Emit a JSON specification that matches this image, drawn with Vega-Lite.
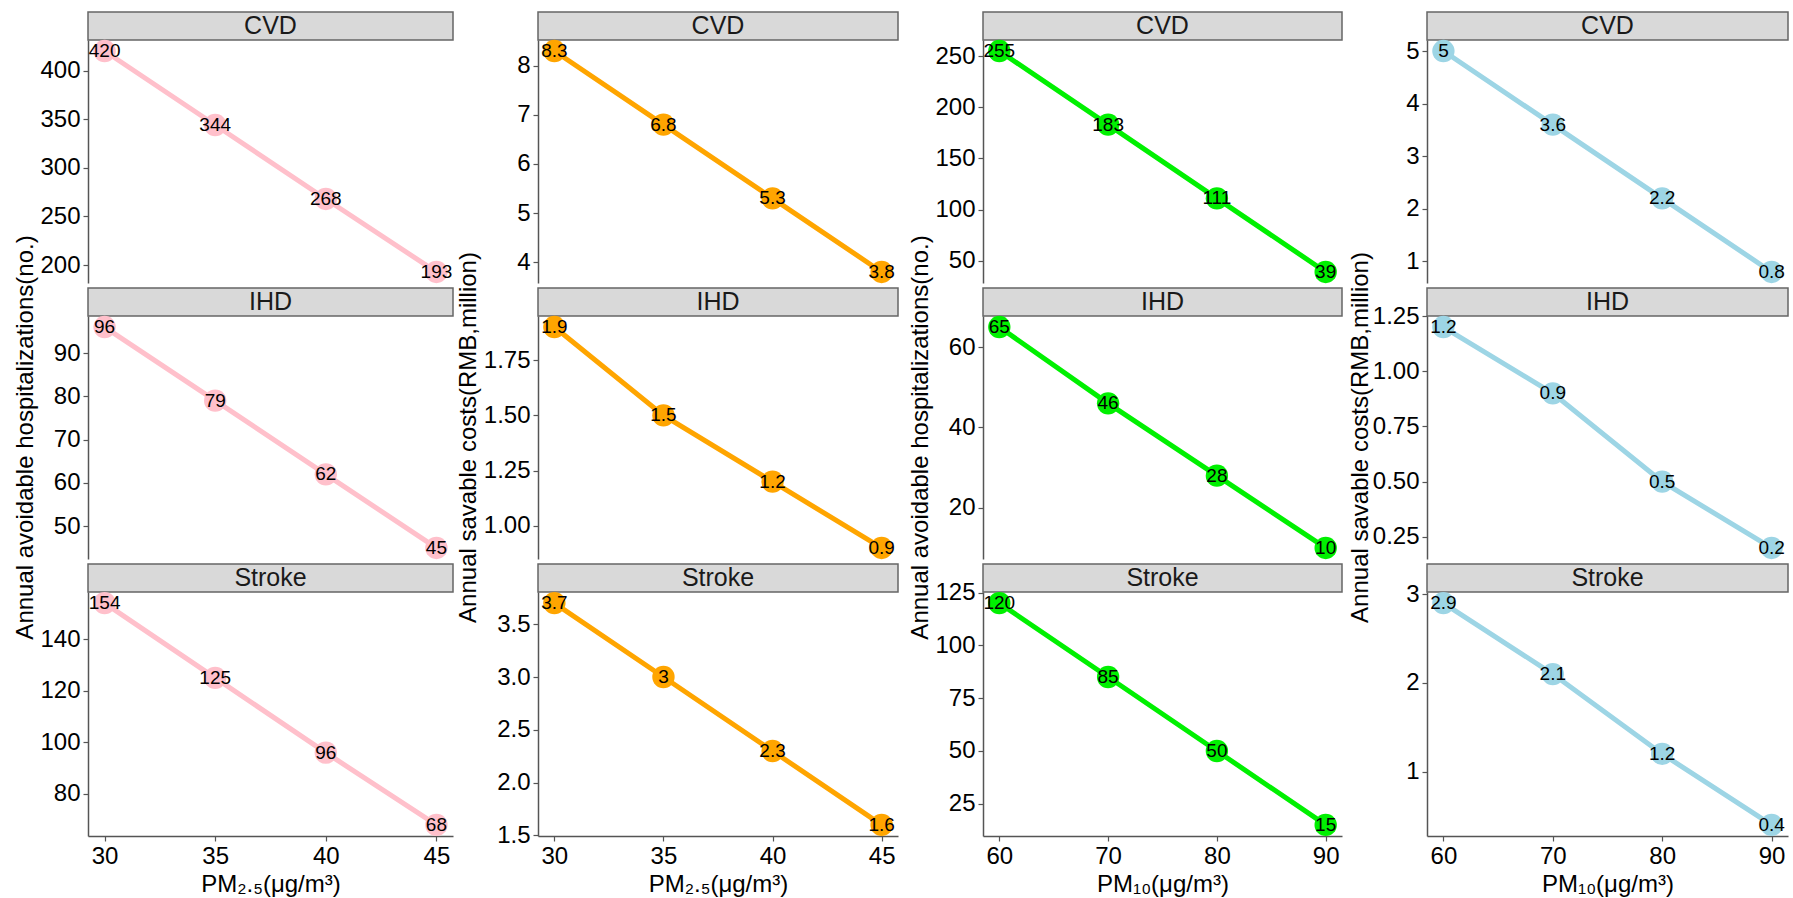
{
"$schema": "https://vega.github.io/schema/vega-lite/v6.json",
"padding": {"left": 12, "top": 11, "right": 5, "bottom": 5},
"background": "white",
"datasets": {
"d": [
{"col":1,"disease":"CVD","pm":30,"v":420},{"col":1,"disease":"CVD","pm":35,"v":344},{"col":1,"disease":"CVD","pm":40,"v":268},{"col":1,"disease":"CVD","pm":45,"v":193},
{"col":1,"disease":"IHD","pm":30,"v":96},{"col":1,"disease":"IHD","pm":35,"v":79},{"col":1,"disease":"IHD","pm":40,"v":62},{"col":1,"disease":"IHD","pm":45,"v":45},
{"col":1,"disease":"Stroke","pm":30,"v":154},{"col":1,"disease":"Stroke","pm":35,"v":125},{"col":1,"disease":"Stroke","pm":40,"v":96},{"col":1,"disease":"Stroke","pm":45,"v":68},
{"col":2,"disease":"CVD","pm":30,"v":8.3},{"col":2,"disease":"CVD","pm":35,"v":6.8},{"col":2,"disease":"CVD","pm":40,"v":5.3},{"col":2,"disease":"CVD","pm":45,"v":3.8},
{"col":2,"disease":"IHD","pm":30,"v":1.9},{"col":2,"disease":"IHD","pm":35,"v":1.5},{"col":2,"disease":"IHD","pm":40,"v":1.2},{"col":2,"disease":"IHD","pm":45,"v":0.9},
{"col":2,"disease":"Stroke","pm":30,"v":3.7},{"col":2,"disease":"Stroke","pm":35,"v":3},{"col":2,"disease":"Stroke","pm":40,"v":2.3},{"col":2,"disease":"Stroke","pm":45,"v":1.6},
{"col":3,"disease":"CVD","pm":60,"v":255},{"col":3,"disease":"CVD","pm":70,"v":183},{"col":3,"disease":"CVD","pm":80,"v":111},{"col":3,"disease":"CVD","pm":90,"v":39},
{"col":3,"disease":"IHD","pm":60,"v":65},{"col":3,"disease":"IHD","pm":70,"v":46},{"col":3,"disease":"IHD","pm":80,"v":28},{"col":3,"disease":"IHD","pm":90,"v":10},
{"col":3,"disease":"Stroke","pm":60,"v":120},{"col":3,"disease":"Stroke","pm":70,"v":85},{"col":3,"disease":"Stroke","pm":80,"v":50},{"col":3,"disease":"Stroke","pm":90,"v":15},
{"col":4,"disease":"CVD","pm":60,"v":5},{"col":4,"disease":"CVD","pm":70,"v":3.6},{"col":4,"disease":"CVD","pm":80,"v":2.2},{"col":4,"disease":"CVD","pm":90,"v":0.8},
{"col":4,"disease":"IHD","pm":60,"v":1.2},{"col":4,"disease":"IHD","pm":70,"v":0.9},{"col":4,"disease":"IHD","pm":80,"v":0.5},{"col":4,"disease":"IHD","pm":90,"v":0.2},
{"col":4,"disease":"Stroke","pm":60,"v":2.9},{"col":4,"disease":"Stroke","pm":70,"v":2.1},{"col":4,"disease":"Stroke","pm":80,"v":1.2},{"col":4,"disease":"Stroke","pm":90,"v":0.4}
]
},
"bounds": "flush",
"columns": 4,
"spacing": {"row": 0, "column": 85},
"concat": [
  {"width": 365, "height": 28, "data": {"values": [{"label": "CVD"}]}, "mark": {"type": "text", "fontSize": 25, "color": "#1a1a1a"}, "encoding": {"text": {"field": "label", "type": "nominal"}}, "view": {"fill": "#D9D9D9", "stroke": "#666666", "strokeWidth": 1.5}},
  {"width": 360, "height": 28, "data": {"values": [{"label": "CVD"}]}, "mark": {"type": "text", "fontSize": 25, "color": "#1a1a1a"}, "encoding": {"text": {"field": "label", "type": "nominal"}}, "view": {"fill": "#D9D9D9", "stroke": "#666666", "strokeWidth": 1.5}},
  {"width": 359, "height": 28, "data": {"values": [{"label": "CVD"}]}, "mark": {"type": "text", "fontSize": 25, "color": "#1a1a1a"}, "encoding": {"text": {"field": "label", "type": "nominal"}}, "view": {"fill": "#D9D9D9", "stroke": "#666666", "strokeWidth": 1.5}},
  {"width": 361, "height": 28, "data": {"values": [{"label": "CVD"}]}, "mark": {"type": "text", "fontSize": 25, "color": "#1a1a1a"}, "encoding": {"text": {"field": "label", "type": "nominal"}}, "view": {"fill": "#D9D9D9", "stroke": "#666666", "strokeWidth": 1.5}},

  {"width": 365, "height": 248, "data": {"name": "d"}, "transform": [{"filter": "datum.col==1 && datum.disease=='CVD'"}],
   "encoding": {"x": {"field": "pm", "type": "quantitative", "scale": {"domain": [29.25, 45.75], "nice": false, "zero": false}, "axis": null},
    "y": {"field": "v", "type": "quantitative", "scale": {"domain": [181.65, 431.35], "range": [243, 0], "nice": false, "zero": false}, "axis": {"values": [200, 250, 300, 350, 400], "title": null}}},
   "layer": [{"mark": {"type": "line", "color": "#FFC0CB", "strokeWidth": 5}}, {"mark": {"type": "circle", "color": "#FFC0CB", "size": 500, "opacity": 1}}, {"mark": {"type": "text", "fontSize": 19, "color": "#000000"}, "encoding": {"text": {"field": "v", "type": "nominal"}}}]},
  {"width": 360, "height": 248, "data": {"name": "d"}, "transform": [{"filter": "datum.col==2 && datum.disease=='CVD'"}],
   "encoding": {"x": {"field": "pm", "type": "quantitative", "scale": {"domain": [29.25, 45.75], "nice": false, "zero": false}, "axis": null},
    "y": {"field": "v", "type": "quantitative", "scale": {"domain": [3.575, 8.525], "range": [243, 0], "nice": false, "zero": false}, "axis": {"values": [4, 5, 6, 7, 8], "title": null}}},
   "layer": [{"mark": {"type": "line", "color": "#FFA500", "strokeWidth": 5}}, {"mark": {"type": "circle", "color": "#FFA500", "size": 500, "opacity": 1}}, {"mark": {"type": "text", "fontSize": 19, "color": "#000000"}, "encoding": {"text": {"field": "v", "type": "nominal"}}}]},
  {"width": 359, "height": 248, "data": {"name": "d"}, "transform": [{"filter": "datum.col==3 && datum.disease=='CVD'"}],
   "encoding": {"x": {"field": "pm", "type": "quantitative", "scale": {"domain": [58.5, 91.5], "nice": false, "zero": false}, "axis": null},
    "y": {"field": "v", "type": "quantitative", "scale": {"domain": [28.2, 265.8], "range": [243, 0], "nice": false, "zero": false}, "axis": {"values": [50, 100, 150, 200, 250], "title": null}}},
   "layer": [{"mark": {"type": "line", "color": "#00F000", "strokeWidth": 5}}, {"mark": {"type": "circle", "color": "#00F000", "size": 500, "opacity": 1}}, {"mark": {"type": "text", "fontSize": 19, "color": "#000000"}, "encoding": {"text": {"field": "v", "type": "nominal"}}}]},
  {"width": 361, "height": 248, "data": {"name": "d"}, "transform": [{"filter": "datum.col==4 && datum.disease=='CVD'"}],
   "encoding": {"x": {"field": "pm", "type": "quantitative", "scale": {"domain": [58.5, 91.5], "nice": false, "zero": false}, "axis": null},
    "y": {"field": "v", "type": "quantitative", "scale": {"domain": [0.59, 5.21], "range": [243, 0], "nice": false, "zero": false}, "axis": {"values": [1, 2, 3, 4, 5], "title": null}}},
   "layer": [{"mark": {"type": "line", "color": "#9DD5E5", "strokeWidth": 5}}, {"mark": {"type": "circle", "color": "#9DD5E5", "size": 500, "opacity": 1}}, {"mark": {"type": "text", "fontSize": 19, "color": "#000000"}, "encoding": {"text": {"field": "v", "type": "nominal"}}}]},

  {"width": 365, "height": 28, "data": {"values": [{"label": "IHD"}]}, "mark": {"type": "text", "fontSize": 25, "color": "#1a1a1a"}, "encoding": {"text": {"field": "label", "type": "nominal"}}, "view": {"fill": "#D9D9D9", "stroke": "#666666", "strokeWidth": 1.5}},
  {"width": 360, "height": 28, "data": {"values": [{"label": "IHD"}]}, "mark": {"type": "text", "fontSize": 25, "color": "#1a1a1a"}, "encoding": {"text": {"field": "label", "type": "nominal"}}, "view": {"fill": "#D9D9D9", "stroke": "#666666", "strokeWidth": 1.5}},
  {"width": 359, "height": 28, "data": {"values": [{"label": "IHD"}]}, "mark": {"type": "text", "fontSize": 25, "color": "#1a1a1a"}, "encoding": {"text": {"field": "label", "type": "nominal"}}, "view": {"fill": "#D9D9D9", "stroke": "#666666", "strokeWidth": 1.5}},
  {"width": 361, "height": 28, "data": {"values": [{"label": "IHD"}]}, "mark": {"type": "text", "fontSize": 25, "color": "#1a1a1a"}, "encoding": {"text": {"field": "label", "type": "nominal"}}, "view": {"fill": "#D9D9D9", "stroke": "#666666", "strokeWidth": 1.5}},

  {"width": 365, "height": 248, "data": {"name": "d"}, "transform": [{"filter": "datum.col==1 && datum.disease=='IHD'"}],
   "encoding": {"x": {"field": "pm", "type": "quantitative", "scale": {"domain": [29.25, 45.75], "nice": false, "zero": false}, "axis": null},
    "y": {"field": "v", "type": "quantitative", "scale": {"domain": [42.45, 98.55], "range": [243, 0], "nice": false, "zero": false}, "axis": {"values": [50, 60, 70, 80, 90], "title": "Annual avoidable hospitalizations(no.)", "titleX": -51, "titleY": 121}}},
   "layer": [{"mark": {"type": "line", "color": "#FFC0CB", "strokeWidth": 5}}, {"mark": {"type": "circle", "color": "#FFC0CB", "size": 500, "opacity": 1}}, {"mark": {"type": "text", "fontSize": 19, "color": "#000000"}, "encoding": {"text": {"field": "v", "type": "nominal"}}}]},
  {"width": 360, "height": 248, "data": {"name": "d"}, "transform": [{"filter": "datum.col==2 && datum.disease=='IHD'"}],
   "encoding": {"x": {"field": "pm", "type": "quantitative", "scale": {"domain": [29.25, 45.75], "nice": false, "zero": false}, "axis": null},
    "y": {"field": "v", "type": "quantitative", "scale": {"domain": [0.85, 1.95], "range": [243, 0], "nice": false, "zero": false}, "axis": {"values": [1, 1.25, 1.5, 1.75], "format": ".2f", "title": "Annual savable costs(RMB,million)", "titleX": -58, "titleY": 121}}},
   "layer": [{"mark": {"type": "line", "color": "#FFA500", "strokeWidth": 5}}, {"mark": {"type": "circle", "color": "#FFA500", "size": 500, "opacity": 1}}, {"mark": {"type": "text", "fontSize": 19, "color": "#000000"}, "encoding": {"text": {"field": "v", "type": "nominal"}}}]},
  {"width": 359, "height": 248, "data": {"name": "d"}, "transform": [{"filter": "datum.col==3 && datum.disease=='IHD'"}],
   "encoding": {"x": {"field": "pm", "type": "quantitative", "scale": {"domain": [58.5, 91.5], "nice": false, "zero": false}, "axis": null},
    "y": {"field": "v", "type": "quantitative", "scale": {"domain": [7.25, 67.75], "range": [243, 0], "nice": false, "zero": false}, "axis": {"values": [20, 40, 60], "title": "Annual avoidable hospitalizations(no.)", "titleX": -51, "titleY": 121}}},
   "layer": [{"mark": {"type": "line", "color": "#00F000", "strokeWidth": 5}}, {"mark": {"type": "circle", "color": "#00F000", "size": 500, "opacity": 1}}, {"mark": {"type": "text", "fontSize": 19, "color": "#000000"}, "encoding": {"text": {"field": "v", "type": "nominal"}}}]},
  {"width": 361, "height": 248, "data": {"name": "d"}, "transform": [{"filter": "datum.col==4 && datum.disease=='IHD'"}],
   "encoding": {"x": {"field": "pm", "type": "quantitative", "scale": {"domain": [58.5, 91.5], "nice": false, "zero": false}, "axis": null},
    "y": {"field": "v", "type": "quantitative", "scale": {"domain": [0.15, 1.25], "range": [243, 0], "nice": false, "zero": false}, "axis": {"values": [0.25, 0.5, 0.75, 1, 1.25], "format": ".2f", "title": "Annual savable costs(RMB,million)", "titleX": -55, "titleY": 121}}},
   "layer": [{"mark": {"type": "line", "color": "#9DD5E5", "strokeWidth": 5}}, {"mark": {"type": "circle", "color": "#9DD5E5", "size": 500, "opacity": 1}}, {"mark": {"type": "text", "fontSize": 19, "color": "#000000"}, "encoding": {"text": {"field": "v", "type": "nominal"}}}]},

  {"width": 365, "height": 28, "data": {"values": [{"label": "Stroke"}]}, "mark": {"type": "text", "fontSize": 25, "color": "#1a1a1a"}, "encoding": {"text": {"field": "label", "type": "nominal"}}, "view": {"fill": "#D9D9D9", "stroke": "#666666", "strokeWidth": 1.5}},
  {"width": 360, "height": 28, "data": {"values": [{"label": "Stroke"}]}, "mark": {"type": "text", "fontSize": 25, "color": "#1a1a1a"}, "encoding": {"text": {"field": "label", "type": "nominal"}}, "view": {"fill": "#D9D9D9", "stroke": "#666666", "strokeWidth": 1.5}},
  {"width": 359, "height": 28, "data": {"values": [{"label": "Stroke"}]}, "mark": {"type": "text", "fontSize": 25, "color": "#1a1a1a"}, "encoding": {"text": {"field": "label", "type": "nominal"}}, "view": {"fill": "#D9D9D9", "stroke": "#666666", "strokeWidth": 1.5}},
  {"width": 361, "height": 28, "data": {"values": [{"label": "Stroke"}]}, "mark": {"type": "text", "fontSize": 25, "color": "#1a1a1a"}, "encoding": {"text": {"field": "label", "type": "nominal"}}, "view": {"fill": "#D9D9D9", "stroke": "#666666", "strokeWidth": 1.5}},

  {"width": 365, "height": 244, "data": {"name": "d"}, "transform": [{"filter": "datum.col==1 && datum.disease=='Stroke'"}],
   "encoding": {"x": {"field": "pm", "type": "quantitative", "scale": {"domain": [29.25, 45.75], "nice": false, "zero": false}, "axis": {"values": [30, 35, 40, 45], "title": "PM₂.₅(μg/m³)"}},
    "y": {"field": "v", "type": "quantitative", "scale": {"domain": [63.7, 158.3], "nice": false, "zero": false}, "axis": {"values": [80, 100, 120, 140], "title": null}}},
   "layer": [{"mark": {"type": "line", "color": "#FFC0CB", "strokeWidth": 5}}, {"mark": {"type": "circle", "color": "#FFC0CB", "size": 500, "opacity": 1}}, {"mark": {"type": "text", "fontSize": 19, "color": "#000000"}, "encoding": {"text": {"field": "v", "type": "nominal"}}}]},
  {"width": 360, "height": 244, "data": {"name": "d"}, "transform": [{"filter": "datum.col==2 && datum.disease=='Stroke'"}],
   "encoding": {"x": {"field": "pm", "type": "quantitative", "scale": {"domain": [29.25, 45.75], "nice": false, "zero": false}, "axis": {"values": [30, 35, 40, 45], "title": "PM₂.₅(μg/m³)"}},
    "y": {"field": "v", "type": "quantitative", "scale": {"domain": [1.495, 3.805], "nice": false, "zero": false}, "axis": {"values": [1.5, 2, 2.5, 3, 3.5], "format": ".1f", "title": null}}},
   "layer": [{"mark": {"type": "line", "color": "#FFA500", "strokeWidth": 5}}, {"mark": {"type": "circle", "color": "#FFA500", "size": 500, "opacity": 1}}, {"mark": {"type": "text", "fontSize": 19, "color": "#000000"}, "encoding": {"text": {"field": "v", "type": "nominal"}}}]},
  {"width": 359, "height": 244, "data": {"name": "d"}, "transform": [{"filter": "datum.col==3 && datum.disease=='Stroke'"}],
   "encoding": {"x": {"field": "pm", "type": "quantitative", "scale": {"domain": [58.5, 91.5], "nice": false, "zero": false}, "axis": {"values": [60, 70, 80, 90], "title": "PM₁₀(μg/m³)"}},
    "y": {"field": "v", "type": "quantitative", "scale": {"domain": [9.75, 125.25], "nice": false, "zero": false}, "axis": {"values": [25, 50, 75, 100, 125], "title": null}}},
   "layer": [{"mark": {"type": "line", "color": "#00F000", "strokeWidth": 5}}, {"mark": {"type": "circle", "color": "#00F000", "size": 500, "opacity": 1}}, {"mark": {"type": "text", "fontSize": 19, "color": "#000000"}, "encoding": {"text": {"field": "v", "type": "nominal"}}}]},
  {"width": 361, "height": 244, "data": {"name": "d"}, "transform": [{"filter": "datum.col==4 && datum.disease=='Stroke'"}],
   "encoding": {"x": {"field": "pm", "type": "quantitative", "scale": {"domain": [58.5, 91.5], "nice": false, "zero": false}, "axis": {"values": [60, 70, 80, 90], "title": "PM₁₀(μg/m³)"}},
    "y": {"field": "v", "type": "quantitative", "scale": {"domain": [0.275, 3.025], "nice": false, "zero": false}, "axis": {"values": [1, 2, 3], "title": null}}},
   "layer": [{"mark": {"type": "line", "color": "#9DD5E5", "strokeWidth": 5}}, {"mark": {"type": "circle", "color": "#9DD5E5", "size": 500, "opacity": 1}}, {"mark": {"type": "text", "fontSize": 19, "color": "#000000"}, "encoding": {"text": {"field": "v", "type": "nominal"}}}]}
],
"config": {
 "font": "Liberation Sans",
 "view": {"stroke": null},
 "axis": {"grid": false, "domainColor": "#555555", "domainWidth": 1.5, "tickColor": "#555555", "tickWidth": 1.2, "tickSize": 5, "labelColor": "#000000", "labelFontSize": 24, "labelFont": "Liberation Sans", "labelPadding": 3, "labelFlush": false, "labelOverlap": false, "titleColor": "#000000", "titleFontSize": 24, "titleFontWeight": "normal", "titleFont": "Liberation Sans", "titlePadding": 4}
}
}
